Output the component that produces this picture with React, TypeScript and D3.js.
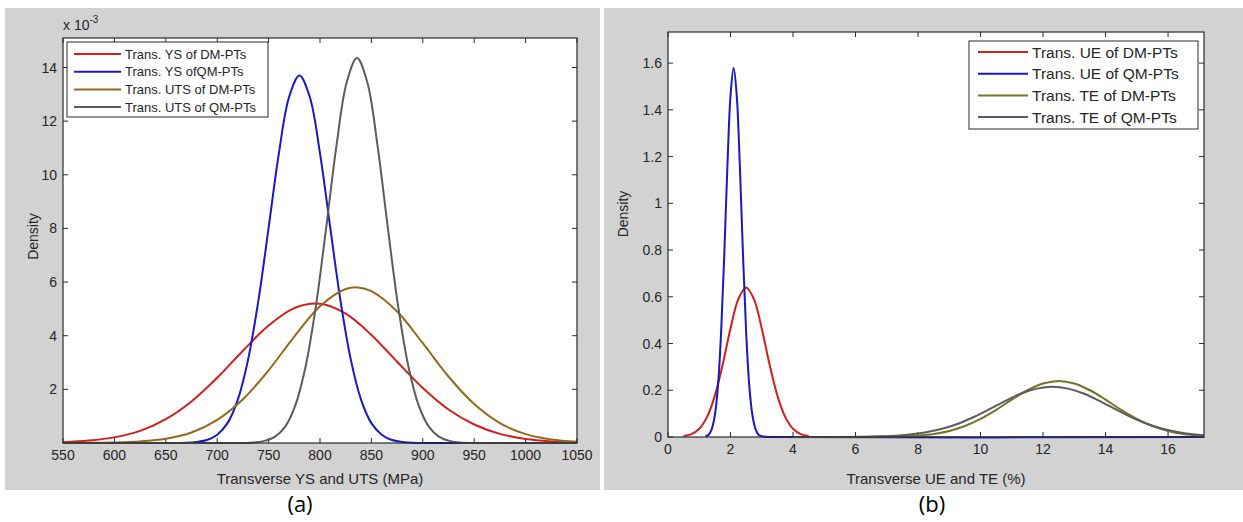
import React from 'react';
import * as d3 from 'd3';

// ---------- Panel (a): transverse YS / UTS (density in units of 1e-3) ----------
const aXTicks = [550, 600, 650, 700, 750, 800, 850, 900, 950, 1000, 1050];
const aYTicks = [2, 4, 6, 8, 10, 12, 14];

const aBroadX = [550, 575, 600, 625, 650, 675, 700, 725, 750, 775, 800, 825, 850, 875, 900, 925, 950, 975, 1000, 1025, 1050];
const ysDM = [0.03, 0.09, 0.21, 0.45, 0.89, 1.55, 2.43, 3.44, 4.38, 5.03, 5.19, 4.82, 4.03, 3.03, 2.05, 1.25, 0.69, 0.34, 0.15, 0.06, 0.02];
const utsDMX = [550, 575, 600, 625, 650, 675, 700, 725, 750, 775, 800, 825, 837, 850, 875, 900, 925, 950, 975, 1000, 1025, 1050];
const utsDM = [0.0, 0.005, 0.02, 0.06, 0.16, 0.39, 0.86, 1.63, 2.71, 3.97, 5.1, 5.74, 5.8, 5.66, 4.9, 3.72, 2.48, 1.45, 0.74, 0.33, 0.13, 0.05];

const ysQMX = [550, 650, 670, 680, 690, 700, 710, 720, 730, 740, 750, 760, 770, 780, 790, 800, 810, 820, 830, 840, 850, 860, 870, 880, 890, 950, 1050];
const ysQM = [0, 0, 0.01, 0.04, 0.11, 0.31, 0.74, 1.61, 3.1, 5.29, 8.02, 10.8, 12.91, 13.7, 12.91, 10.8, 8.02, 5.29, 3.1, 1.61, 0.74, 0.31, 0.11, 0.04, 0.01, 0, 0];

const utsQMX = [550, 700, 736, 746, 756, 766, 776, 786, 796, 806, 816, 826, 836, 846, 856, 866, 876, 886, 896, 906, 916, 926, 936, 960, 1050];
const utsQM = [0, 0, 0.02, 0.08, 0.23, 0.6, 1.4, 2.85, 5.1, 8.02, 11.08, 13.45, 14.35, 13.45, 11.08, 8.02, 5.1, 2.85, 1.4, 0.6, 0.23, 0.08, 0.02, 0, 0];

const aLegend = ['Trans. YS of DM-PTs', 'Trans. YS ofQM-PTs', 'Trans. UTS of DM-PTs', 'Trans. UTS of QM-PTs'];

// ---------- Panel (b): transverse UE / TE ----------
const bXTicks = [0, 2, 4, 6, 8, 10, 12, 14, 16];
const bYTicks = [0, 0.2, 0.4, 0.6, 0.8, 1, 1.2, 1.4, 1.6];

const ueDMX = [0.5, 0.75, 1.0, 1.25, 1.5, 1.75, 2.0, 2.25, 2.5, 2.75, 3.0, 3.25, 3.5, 3.75, 4.0, 4.25, 4.5];
const ueDM = [0.004, 0.012, 0.035, 0.086, 0.177, 0.31, 0.464, 0.59, 0.64, 0.59, 0.464, 0.31, 0.177, 0.086, 0.035, 0.012, 0.004];

const ueQMX = [1.2, 1.3, 1.4, 1.5, 1.6, 1.7, 1.8, 1.9, 2.0, 2.1, 2.2, 2.3, 2.4, 2.5, 2.6, 2.7, 2.8, 2.9, 3.0, 3.5, 17.15];
const ueQM = [0.003, 0.01, 0.034, 0.094, 0.22, 0.45, 0.78, 1.155, 1.46, 1.58, 1.46, 1.155, 0.78, 0.45, 0.22, 0.094, 0.034, 0.01, 0.003, 0, 0];

const teDMX = [4, 6, 7, 7.5, 8, 8.5, 9, 9.5, 10, 10.5, 11, 11.5, 12, 12.5, 13, 13.5, 14, 14.5, 15, 15.5, 16, 16.5, 17, 17.15];
const teDM = [0, 0, 0.001, 0.0026, 0.006, 0.013, 0.026, 0.047, 0.0775, 0.116, 0.16, 0.2, 0.229, 0.24, 0.229, 0.2, 0.16, 0.116, 0.0775, 0.047, 0.026, 0.013, 0.006, 0.005];

const teQMX = [4, 5.5, 6.3, 6.8, 7.3, 7.8, 8.3, 8.8, 9.3, 9.8, 10.3, 10.8, 11.3, 11.8, 12.3, 12.8, 13.3, 13.8, 14.3, 14.8, 15.3, 15.8, 16.3, 16.8, 17.15];
const teQM = [0, 0, 0.0011, 0.0027, 0.0057, 0.0113, 0.021, 0.036, 0.058, 0.0867, 0.12, 0.155, 0.186, 0.207, 0.215, 0.207, 0.186, 0.155, 0.12, 0.0867, 0.058, 0.036, 0.021, 0.0113, 0.007];

const bLegend = ['Trans. UE of DM-PTs', 'Trans. UE of QM-PTs', 'Trans. TE of DM-PTs', 'Trans. TE of QM-PTs'];

const RED = '#d61d1d';
const BLUE = '#1818c8';
const BROWN_A = '#98681a';
const OLIVE_B = '#767426';
const GRAY = '#5c5c5c';
const FONT = '"Liberation Sans", Arial, sans-serif';
const AXIS = '#2b2b2b';
const TICKTXT = '#262626';

type Box = { x0: number; x1: number; y0: number; y1: number };

function Frame({ box, xs, ys, xt, yt, xfmt, yfmt, id }: any) {
  const len = 5;
  return (
    <g>
      <rect x={box.x0} y={box.y0} width={box.x1 - box.x0} height={box.y1 - box.y0} fill="#fff" />
      <defs>
        <clipPath id={id}>
          <rect x={box.x0} y={box.y0 - 2} width={box.x1 - box.x0} height={box.y1 - box.y0 + 4} />
        </clipPath>
      </defs>
      {xt.map((t: number) => (
        <g key={'x' + t}>
          <line x1={xs(t)} x2={xs(t)} y1={box.y1} y2={box.y1 - len} stroke={AXIS} />
          <line x1={xs(t)} x2={xs(t)} y1={box.y0} y2={box.y0 + len} stroke={AXIS} />
          <text x={xs(t)} y={box.y1 + 17} textAnchor="middle" fontSize={14} fontFamily={FONT} fill={TICKTXT}>{xfmt(t)}</text>
        </g>
      ))}
      {yt.map((t: number) => (
        <g key={'y' + t}>
          <line x1={box.x0} x2={box.x0 + len} y1={ys(t)} y2={ys(t)} stroke={AXIS} />
          <line x1={box.x1} x2={box.x1 - len} y1={ys(t)} y2={ys(t)} stroke={AXIS} />
          <text x={box.x0 - 6} y={ys(t) + 5} textAnchor="end" fontSize={14} fontFamily={FONT} fill={TICKTXT}>{yfmt(t)}</text>
        </g>
      ))}
    </g>
  );
}

function Legend({ x, y, w, h, rowY, step, sx0, sx1, tx, fs, labels, colors }: any) {
  return (
    <g>
      <rect x={x} y={y} width={w} height={h} fill="#fff" stroke={AXIS} strokeWidth={1} />
      {labels.map((l: string, i: number) => (
        <g key={l}>
          <line x1={sx0} x2={sx1} y1={rowY + i * step} y2={rowY + i * step} stroke={colors[i]} strokeWidth={2} />
          <text x={tx} y={rowY + i * step + fs * 0.36} fontSize={fs} fontFamily={FONT} fill={TICKTXT}>{l}</text>
        </g>
      ))}
    </g>
  );
}

export default function App() {
  const A: Box = { x0: 63, x1: 577, y0: 38, y1: 443 };
  const B: Box = { x0: 668, x1: 1204, y0: 32, y1: 437 };

  const xa = d3.scaleLinear().domain([550, 1050]).range([A.x0, A.x1]);
  const ya = d3.scaleLinear().domain([0, 15.1]).range([A.y1, A.y0]);
  const xb = d3.scaleLinear().domain([0, 17.15]).range([B.x0, B.x1]);
  const yb = d3.scaleLinear().domain([0, 1.733]).range([B.y1, B.y0]);

  const curve = d3.curveCatmullRom.alpha(0.5);
  const lineA = (xsArr: number[], vals: number[]) =>
    d3.line<number>().x((_, i) => xa(xsArr[i])).y((d) => ya(d)).curve(curve)(vals) || '';
  const lineB = (xsArr: number[], vals: number[]) =>
    d3.line<number>().x((_, i) => xb(xsArr[i])).y((d) => yb(d)).curve(curve)(vals) || '';

  const aSeries = [
    { d: lineA(aBroadX, ysDM), c: RED },
    { d: lineA(ysQMX, ysQM), c: BLUE },
    { d: lineA(utsDMX, utsDM), c: BROWN_A },
    { d: lineA(utsQMX, utsQM), c: GRAY },
  ];
  const bSeries = [
    { d: lineB(ueDMX, ueDM), c: RED },
    { d: lineB(ueQMX, ueQM), c: BLUE },
    { d: lineB(teDMX, teDM), c: OLIVE_B },
    { d: lineB(teQMX, teQM), c: GRAY },
  ];

  return (
    <svg width={1243} height={522} style={{ position: 'absolute', left: 0, top: 0, background: '#fff' }}>
      <rect x={5} y={8} width={595} height={482} fill="#d2d2d2" />
      <rect x={604} y={8} width={639} height={482} fill="#d2d2d2" />

      {/* Panel a */}
      <Frame box={A} xs={xa} ys={ya} xt={aXTicks} yt={aYTicks} xfmt={(t: number) => String(t)} yfmt={(t: number) => String(t)} id="clipA" />
      <g clipPath="url(#clipA)">
        {aSeries.map((s, i) => (
          <path key={i} d={s.d} fill="none" stroke={s.c} strokeWidth={2} />
        ))}
      </g>
      <rect x={A.x0} y={A.y0} width={A.x1 - A.x0} height={A.y1 - A.y0} fill="none" stroke={AXIS} strokeWidth={1.2} />
      <Legend x={67} y={42} w={201} h={75} rowY={54} step={17.7} sx0={74} sx1={121} tx={125} fs={13}
        labels={aLegend} colors={[RED, BLUE, BROWN_A, GRAY]} />
      <text x={63} y={30} fontSize={14} fontFamily={FONT} fill={TICKTXT}>
        x 10<tspan dy={-7} fontSize={10}>-3</tspan>
      </text>
      <text transform={`translate(38,${(A.y0 + A.y1) / 2 - 4}) rotate(-90)`} textAnchor="middle" fontSize={14} fontFamily={FONT} fill={TICKTXT}>Density</text>
      <text x={(A.x0 + A.x1) / 2} y={484} textAnchor="middle" fontSize={15} fontFamily={FONT} fill={TICKTXT}>Transverse YS and UTS (MPa)</text>

      {/* Panel b */}
      <Frame box={B} xs={xb} ys={yb} xt={bXTicks} yt={bYTicks} xfmt={(t: number) => String(t)} yfmt={(t: number) => String(+t.toFixed(1))} id="clipB" />
      <g clipPath="url(#clipB)">
        {bSeries.map((s, i) => (
          <path key={i} d={s.d} fill="none" stroke={s.c} strokeWidth={2} />
        ))}
      </g>
      <rect x={B.x0} y={B.y0} width={B.x1 - B.x0} height={B.y1 - B.y0} fill="none" stroke={AXIS} strokeWidth={1.2} />
      <Legend x={969} y={41} w={229} h={88} rowY={52} step={21.7} sx0={978} sx1={1028} tx={1032} fs={15.5}
        labels={bLegend} colors={[RED, BLUE, OLIVE_B, GRAY]} />
      <text transform={`translate(628,214) rotate(-90)`} textAnchor="middle" fontSize={14} fontFamily={FONT} fill={TICKTXT}>Density</text>
      <text x={(B.x0 + B.x1) / 2} y={484} textAnchor="middle" fontSize={15} fontFamily={FONT} fill={TICKTXT}>Transverse UE and TE (%)</text>

      {/* captions */}
      <text x={300} y={512} textAnchor="middle" fontSize={22} fontFamily='"Open Sans", "Noto Sans", sans-serif' fill="#000">(a)</text>
      <text x={932} y={512} textAnchor="middle" fontSize={22} fontFamily='"Open Sans", "Noto Sans", sans-serif' fill="#000">(b)</text>
    </svg>
  );
}
